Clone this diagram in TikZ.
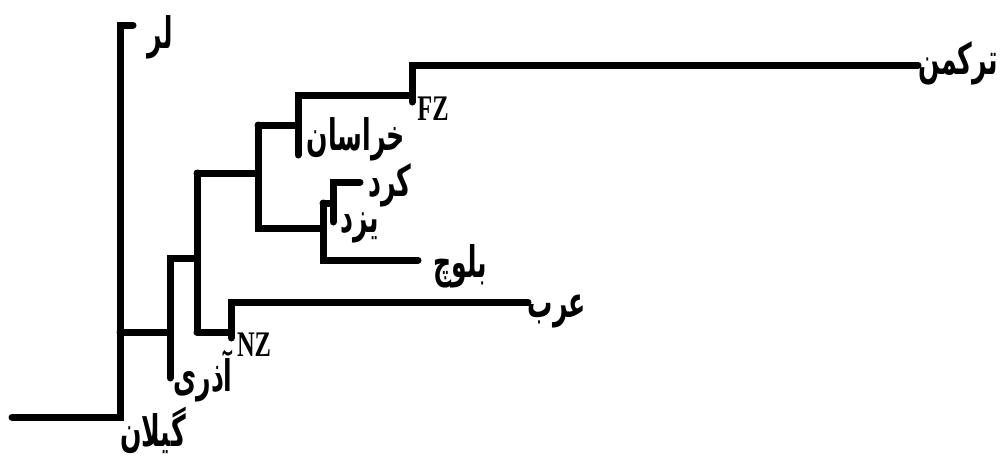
\documentclass[tikz,border=0pt]{standalone}
\usepackage{fontspec}
\usepackage{graphicx}
\setmainfont{Liberation Serif}
\newfontfamily\arabicfont[Script=Arabic]{DejaVu Sans}
\TeXXeTstate=1
\newcommand{\fatext}[1]{\scalebox{0.9}[1.55]{\beginR #1\endR}}
\begin{document}
\begin{tikzpicture}[x=1pt,y=-1pt,
  br/.style={line width=7pt,line cap=round,line join=miter,black},
  fa/.style={font=\arabicfont\bfseries\fontsize{28}{30}\selectfont,inner sep=0pt},
  la/.style={font=\bfseries\fontsize{36}{38}\selectfont,inner sep=0pt}]
\useasboundingbox (0,0) rectangle (1008,458);
% coordinates
\coordinate (r0) at (12,417);
\coordinate (n1) at (120,417);
\coordinate (lrend) at (133,25);
\coordinate (n2) at (170,332);
\coordinate (azleaf) at (170,378);
\coordinate (n3) at (197,258);
\coordinate (n4) at (258,173);
\coordinate (nz) at (231,332);
\coordinate (nzb) at (231,338);
\coordinate (arabend) at (528,302);
\coordinate (n5) at (298,125);
\coordinate (khleaf) at (298,155);
\coordinate (fz) at (412,95);
\coordinate (fzb) at (412,102);
\coordinate (tkend) at (918,65);
\coordinate (n6) at (323,228);
\coordinate (n7) at (333,203);
\coordinate (yzleaf) at (333,222);
\coordinate (kdend) at (360,182);
\coordinate (blend) at (418,260);
% branches
\draw[br] (r0) -- (n1) |- (lrend);
\draw[br] (n1 |- n2) -- (n2);
\draw[br] (azleaf) |- (n3);
\draw[br] (n3 |- nz) -- (nz);
\draw[br] (n3 |- n4) -- (n4);
\draw[br] (nz -| n3) -- (n3 |- n4);
\draw[br] (nzb) |- (arabend);
\draw[br] (n4 |- n5) -- (n5);
\draw[br] (n4 |- n5) |- (n6 -| n4) -- (n6);
\draw[br] (khleaf) |- (fz);
\draw[br] (fzb) |- (tkend);
\draw[br] (n6 |- n7) |- (blend);
\draw[br] (n6 |- n7) -- (n7);
\draw[br] (yzleaf) |- (kdend);
% labels
\node[fa] (lr) at (160,37) {\fatext{لر}};
\node[fa] (tk) at (958,63) {\fatext{ترکمن}};
\node[la] (fzl) at (433,109) {\scalebox{0.68}[1]{FZ}};
\node[la] (nzl) at (254,345) {\scalebox{0.68}[1]{NZ}};
\node[fa] (kh) at (356,139) {\fatext{خراسان}};
\node[fa] (kd) at (390,185) {\fatext{کرد}};
\node[fa] (yz) at (360,228) {\fatext{یزد}};
\node[fa] (bl) at (460,266) {\fatext{بلوچ}};
\node[fa] (ar) at (557,311) {\fatext{عرب}};
\node[fa] (az) at (203,376) {\fatext{آذری}};
\node[fa] (gl) at (153,430) {\fatext{گیلان}};
\end{tikzpicture}
\end{document}
